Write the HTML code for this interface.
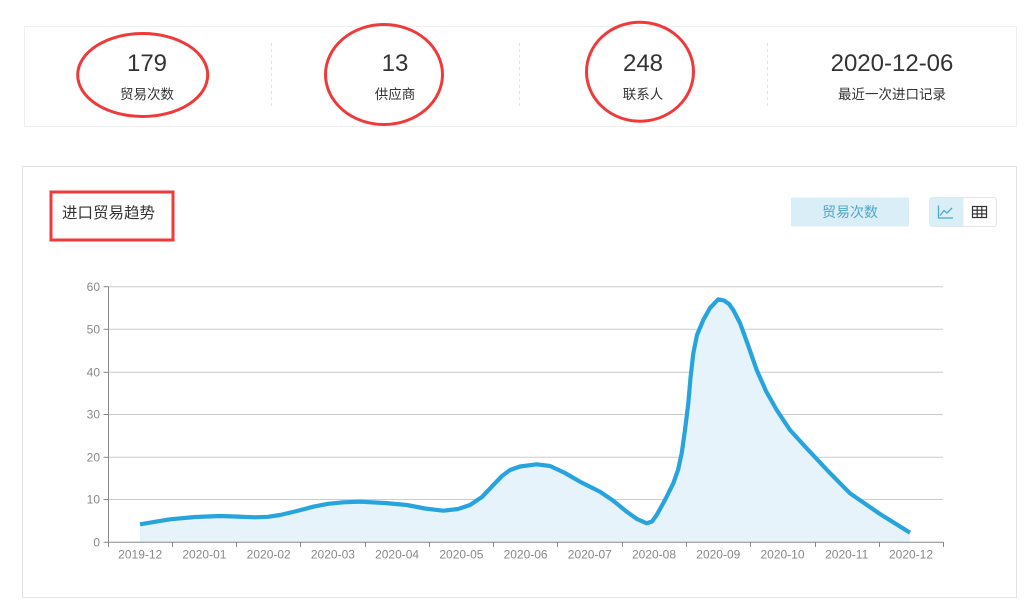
<!DOCTYPE html>
<html>
<head>
<meta charset="utf-8">
<style>
  html,body{margin:0;padding:0;background:#fff;}
  body{width:1029px;height:615px;overflow:hidden;position:relative;}
  svg{position:absolute;left:0;top:0;}
  text{font-family:"Liberation Sans","Noto Sans CJK SC",sans-serif;}
</style>
</head>
<body>
<svg width="1029" height="615" viewBox="0 0 1029 615" xmlns="http://www.w3.org/2000/svg">
  <!-- top stats card -->
  <rect x="24.5" y="26.5" width="992" height="100" fill="#fff" stroke="#efefef" stroke-width="1"/>
  <line x1="271.5" y1="43" x2="271.5" y2="108" stroke="#e2e2e2" stroke-dasharray="3,3"/>
  <line x1="519.5" y1="43" x2="519.5" y2="108" stroke="#e2e2e2" stroke-dasharray="3,3"/>
  <line x1="767.5" y1="43" x2="767.5" y2="108" stroke="#e2e2e2" stroke-dasharray="3,3"/>

  <g fill="#333" text-anchor="middle">
    <text x="147" y="71" font-size="24">179</text>
    <text x="395" y="71" font-size="24">13</text>
    <text x="643" y="71" font-size="24">248</text>
    <text x="892" y="71" font-size="24">2020-12-06</text>
  </g>
  <g fill="#333" text-anchor="middle" font-size="13.5">
    <text x="147" y="99">贸易次数</text>
    <text x="395" y="99">供应商</text>
    <text x="643" y="99">联系人</text>
    <text x="892" y="99">最近一次进口记录</text>
  </g>

  <!-- red annotations -->
  <ellipse cx="142.7" cy="75" rx="65" ry="41.5" fill="none" stroke="#f03a3a" stroke-width="3"/>
  <ellipse cx="384" cy="74.5" rx="58.5" ry="50" fill="none" stroke="#f03a3a" stroke-width="3"/>
  <ellipse cx="640" cy="71.7" rx="53.5" ry="49.5" fill="none" stroke="#f03a3a" stroke-width="3"/>

  <!-- chart card -->
  <rect x="22.5" y="166.5" width="994" height="431" fill="#fff" stroke="#e3e3e3" stroke-width="1"/>
  <rect x="51" y="192" width="122" height="48" fill="none" stroke="#f03a3a" stroke-width="3"/>
  <text x="62" y="218" font-size="15.5" fill="#333">进口贸易趋势</text>

  <!-- buttons -->
  <rect x="791" y="197.5" width="118" height="29" rx="2" fill="#daeef7"/>
  <text x="850" y="217" font-size="14" fill="#4da6cc" text-anchor="middle">贸易次数</text>
  <rect x="929.5" y="197.5" width="67" height="29" rx="3" fill="#fff" stroke="#e3e3e3"/>
  <path d="M932.5 197.5 H963.5 V226.5 H932.5 A3 3 0 0 1 929.5 223.5 V200.5 A3 3 0 0 1 932.5 197.5 Z" fill="#daeef7"/>
  <g fill="none" stroke="#4da6cc" stroke-width="1.3">
    <polyline points="938.5,205.5 938.5,218 953,218"/>
    <polyline points="940,215.5 944,210.5 947,213 952,208"/>
  </g>
  <g fill="none" stroke="#333" stroke-width="1.2">
    <rect x="972.5" y="206.5" width="14" height="11"/>
    <line x1="972.5" y1="210.2" x2="986.5" y2="210.2"/>
    <line x1="972.5" y1="213.9" x2="986.5" y2="213.9"/>
    <line x1="977.2" y1="206.5" x2="977.2" y2="217.5"/>
    <line x1="981.8" y1="206.5" x2="981.8" y2="217.5"/>
  </g>

  <!-- grid lines -->
  <g stroke="#cccccc" stroke-width="1">
    <line x1="108" y1="286.7" x2="943" y2="286.7"/>
    <line x1="108" y1="329.3" x2="943" y2="329.3"/>
    <line x1="108" y1="372.3" x2="943" y2="372.3"/>
    <line x1="108" y1="414.5" x2="943" y2="414.5"/>
    <line x1="108" y1="457.3" x2="943" y2="457.3"/>
    <line x1="108" y1="499.5" x2="943" y2="499.5"/>
  </g>

  <!-- area -->
  <polygon fill="#e6f3fa" points="140,542.3 140,524.3 155,521.8 170,519.3 195,517 220,516 238,516.6 255,517.3 268,516.8 280,515 297,511 313.3,506.7 328,503.8 343.3,502.3 360,501.7 385,503 406.7,505 425,508.5 443.3,510.7 458,509 470,505 482,497 493.3,485 502,476 510,470 520,466.5 536.7,464.3 550,466 565,473 580,481.7 600,491.7 613,500.5 626.7,511.7 637,519 646.7,523.3 652,521.5 656.7,515 665,500 673.3,483.3 678,470 681.7,453.3 685,430 688.3,403.3 690.5,378 693.3,353.3 697,335 703.3,320 710,308 718.3,299.3 724,300.5 729,304 733.3,310 740,323 748,345 756.7,370 766,391 776.7,410 790,430 806.7,448.3 828,471 850,493.3 880,514 910,532.7 910,542.3"/>
  <polyline fill="none" stroke="#27a4dd" stroke-width="4.2" stroke-linejoin="round" stroke-linecap="butt" points="140,524.3 155,521.8 170,519.3 195,517 220,516 238,516.6 255,517.3 268,516.8 280,515 297,511 313.3,506.7 328,503.8 343.3,502.3 360,501.7 385,503 406.7,505 425,508.5 443.3,510.7 458,509 470,505 482,497 493.3,485 502,476 510,470 520,466.5 536.7,464.3 550,466 565,473 580,481.7 600,491.7 613,500.5 626.7,511.7 637,519 646.7,523.3 652,521.5 656.7,515 665,500 673.3,483.3 678,470 681.7,453.3 685,430 688.3,403.3 690.5,378 693.3,353.3 697,335 703.3,320 710,308 718.3,299.3 724,300.5 729,304 733.3,310 740,323 748,345 756.7,370 766,391 776.7,410 790,430 806.7,448.3 828,471 850,493.3 880,514 910,532.7"/>

  <!-- axes -->
  <g stroke="#888" stroke-width="1">
    <line x1="108.5" y1="286.7" x2="108.5" y2="542.3"/>
    <line x1="108" y1="542.3" x2="943.5" y2="542.3"/>
    <line x1="103.5" y1="286.7" x2="108.5" y2="286.7"/>
    <line x1="103.5" y1="329.3" x2="108.5" y2="329.3"/>
    <line x1="103.5" y1="372.3" x2="108.5" y2="372.3"/>
    <line x1="103.5" y1="414.5" x2="108.5" y2="414.5"/>
    <line x1="103.5" y1="457.3" x2="108.5" y2="457.3"/>
    <line x1="103.5" y1="499.5" x2="108.5" y2="499.5"/>
    <line x1="103.5" y1="542.3" x2="108.5" y2="542.3"/>
    <line x1="108.5" y1="542" x2="108.5" y2="547"/>
    <line x1="172.5" y1="542" x2="172.5" y2="547"/>
    <line x1="236.5" y1="542" x2="236.5" y2="547"/>
    <line x1="300.5" y1="542" x2="300.5" y2="547"/>
    <line x1="365.5" y1="542" x2="365.5" y2="547"/>
    <line x1="429.5" y1="542" x2="429.5" y2="547"/>
    <line x1="493.5" y1="542" x2="493.5" y2="547"/>
    <line x1="557.5" y1="542" x2="557.5" y2="547"/>
    <line x1="622.5" y1="542" x2="622.5" y2="547"/>
    <line x1="686.5" y1="542" x2="686.5" y2="547"/>
    <line x1="750.5" y1="542" x2="750.5" y2="547"/>
    <line x1="815.5" y1="542" x2="815.5" y2="547"/>
    <line x1="879.5" y1="542" x2="879.5" y2="547"/>
    <line x1="943.5" y1="542" x2="943.5" y2="547"/>
  </g>

  <!-- y labels -->
  <g fill="#888" font-size="12" text-anchor="end">
    <text x="100" y="291">60</text>
    <text x="100" y="333.5">50</text>
    <text x="100" y="376.5">40</text>
    <text x="100" y="418.5">30</text>
    <text x="100" y="461.5">20</text>
    <text x="100" y="503.5">10</text>
    <text x="100" y="546.5">0</text>
  </g>
  <!-- x labels -->
  <g fill="#888" font-size="12" text-anchor="middle">
    <text x="140.2" y="558.5">2019-12</text>
    <text x="204.4" y="558.5">2020-01</text>
    <text x="268.7" y="558.5">2020-02</text>
    <text x="332.9" y="558.5">2020-03</text>
    <text x="397.1" y="558.5">2020-04</text>
    <text x="461.4" y="558.5">2020-05</text>
    <text x="525.6" y="558.5">2020-06</text>
    <text x="589.8" y="558.5">2020-07</text>
    <text x="654.0" y="558.5">2020-08</text>
    <text x="718.3" y="558.5">2020-09</text>
    <text x="782.5" y="558.5">2020-10</text>
    <text x="846.7" y="558.5">2020-11</text>
    <text x="911.0" y="558.5">2020-12</text>
  </g>
</svg>
</body>
</html>
